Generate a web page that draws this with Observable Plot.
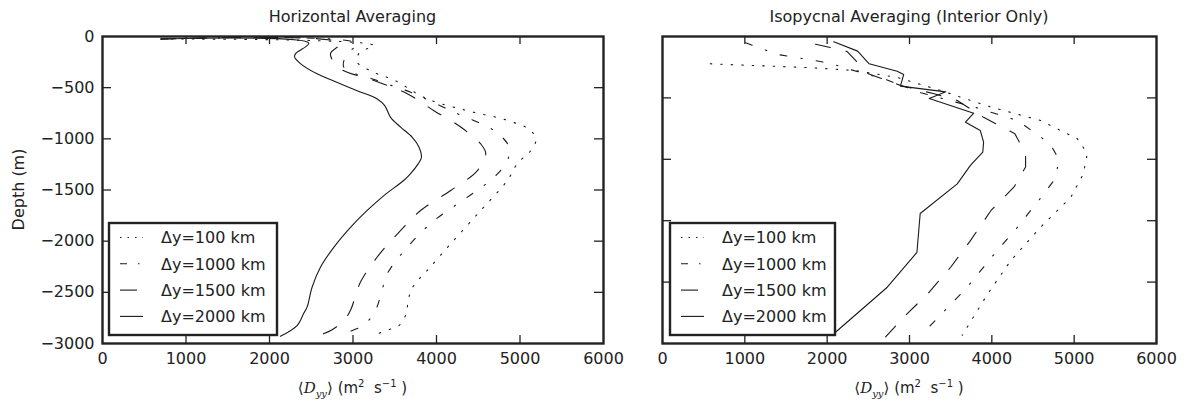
<!DOCTYPE html>
<html><head><meta charset="utf-8">
<script src="https://cdn.jsdelivr.net/npm/d3@7"></script>
<script src="https://cdn.jsdelivr.net/npm/@observablehq/plot@0.6"></script>
<style>
body{margin:0;background:#fff;}
#wrap{display:flex;width:1194px;height:405px;}
#wrap svg{display:block;}
</style></head><body><div id="wrap"></div>
<script>
// ---------- data ----------
const seriesNames = ["Δy=100 km", "Δy=1000 km", "Δy=1500 km", "Δy=2000 km"];
const panelTitles = ["Horizontal Averaging", "Isopycnal Averaging (Interior Only)"];
const yAxisTitle = "Depth (m)";
const xTicks = [0, 1000, 2000, 3000, 4000, 5000, 6000];
const yTicksLeft = [0, -500, -1000, -1500, -2000, -2500, -3000];
const yTicksRight = [0, -600, -1200, -1800, -2400, -3000];

// Horizontal averaging
const hDepth100 = [-25, -88, -155, -250, -350, -430, -610, -725, -820, -920, -1015, -1115, -1240, -1405, -1700, -2025, -2285, -2430, -2545, -2725, -2825, -2865, -2900];
const hD100     = [700, 3250, 3080, 3050, 3250, 3500, 3890, 4370, 4850, 5130, 5190, 5130, 4970, 4850, 4530, 4170, 3890, 3730, 3670, 3630, 3550, 3430, 3310];
const hDepth1000 = [-25, -70, -170, -300, -430, -545, -740, -920, -1080, -1210, -1375, -1570, -1800, -2060, -2320, -2540, -2690, -2820, -2890];
const hD1000     = [700, 3050, 2930, 2890, 3290, 3690, 4210, 4690, 4870, 4850, 4690, 4370, 3970, 3650, 3410, 3330, 3260, 3130, 2930];
const hDepth1500 = [-25, -65, -170, -315, -430, -560, -725, -885, -1050, -1145, -1310, -1505, -1700, -1930, -2155, -2400, -2675, -2775, -2865, -2930];
const hD1500     = [700, 2850, 2730, 2850, 3250, 3650, 3970, 4290, 4530, 4590, 4490, 4170, 3810, 3530, 3290, 3090, 2970, 2890, 2750, 2570];
const hDepth2000 = [-25, -65, -170, -200, -265, -365, -435, -530, -610, -675, -790, -885, -985, -1080, -1180, -1245, -1340, -1405, -1555, -1700, -1865, -2060, -2255, -2450, -2645, -2705, -2825, -2930];
const hD2000     = [700, 2470, 2310, 2300, 2370, 2570, 2770, 3050, 3290, 3380, 3450, 3570, 3710, 3790, 3820, 3780, 3690, 3610, 3370, 3170, 2970, 2770, 2610, 2510, 2450, 2410, 2330, 2130];

// Isopycnal averaging (interior only)
const iDepth100 = [-267, -305, -332, -400, -528, -690, -820, -1000, -1145, -1345, -1570, -1865, -2190, -2515, -2920];
const iD100     = [580, 1800, 2330, 2850, 3380, 3990, 4590, 5040, 5160, 5110, 4960, 4590, 4230, 3950, 3640];
const iDepth1000 = [-61, -117, -176, -205, -234, -264, -316, -371, -420, -550, -690, -820, -1050, -1210, -1400, -1540, -1865, -2125, -2450, -2920];
const iD1000     = [1010, 1200, 1400, 1620, 1840, 2050, 2250, 2490, 2710, 3140, 3790, 4310, 4710, 4820, 4760, 4630, 4310, 4030, 3700, 3140];
const iDepth1500 = [-75, -146, -365, -480, -560, -625, -790, -950, -1145, -1275, -1470, -1700, -1995, -2255, -2515, -2710, -2935];
const iD1500     = [1860, 2240, 2500, 2900, 3300, 3580, 3900, 4280, 4410, 4410, 4270, 3990, 3740, 3500, 3220, 2970, 2710];
const iDepth2000 = [-52, -143, -267, -339, -371, -485, -541, -606, -749, -837, -919, -1032, -1130, -1260, -1440, -1730, -2110, -2450, -2905];
const iD2000     = [2080, 2370, 2510, 2850, 2930, 2890, 3440, 3240, 3780, 3680, 3860, 3900, 3890, 3740, 3580, 3130, 3090, 2730, 2080];

// ---------- styling ----------
const INK = "#222";
const FONT = "'DejaVu Sans', sans-serif";
const dashesPlot = ["1.5,9", "7,14,1.5,14", "15,16", null];
const dashesLegend = ["1.5,6", "7,11,1.5,11", "17,10", null];
const H = 405, MT = 36, MB = 62;

const leftRows = [
  [hDepth100, hD100], [hDepth1000, hD1000], [hDepth1500, hD1500], [hDepth2000, hD2000]
].map(([d, v], i) => d.map((dd, k) => ({series: seriesNames[i], depth: dd, D: v[k]})));
const rightRows = [
  [iDepth100, iD100], [iDepth1000, iD1000], [iDepth1500, iD1500], [iDepth2000, iD2000]
].map(([d, v], i) => d.map((dd, k) => ({series: seriesNames[i], depth: dd, D: v[k]})));

function panel({width, ml, mr, data, yTicks, showYLabels, curve}) {
  const iw = width - ml - mr, ih = H - MT - MB;
  const innerX = xTicks.slice(1, -1), innerY = yTicks.slice(1, -1);
  const marks = [];
  data.forEach((r, i) => {
    marks.push(Plot.line(r, {x: "D", y: "depth", stroke: "#1a1a1a", strokeWidth: 1.1,
      strokeDasharray: dashesPlot[i] || undefined, curve}));
  });
  marks.push(
    Plot.axisX(xTicks, {anchor: "bottom", tickSize: 0, tickPadding: 9, label: null,
      tickFormat: d => String(d), fontSize: 16}),
    Plot.axisY(showYLabels ? yTicks : [], {anchor: "left", tickSize: 0, tickPadding: 8, label: null,
      tickFormat: d => d === 0 ? "0" : "\u2212" + Math.abs(d), fontSize: 16}),
    Plot.tickX(innerX, {x: d => d, insetTop: ih - 8, stroke: INK, strokeWidth: 1.3}),
    Plot.tickX(innerX, {x: d => d, insetBottom: ih - 8, stroke: INK, strokeWidth: 1.3}),
    Plot.tickY(innerY, {y: d => d, insetRight: iw - 9, stroke: INK, strokeWidth: 1.3}),
    Plot.tickY(innerY, {y: d => d, insetLeft: iw - 9, stroke: INK, strokeWidth: 1.3}),
    Plot.frame({stroke: INK, strokeWidth: 2.4})
  );
  return Plot.plot({
    width, height: H, marginLeft: ml, marginRight: mr, marginTop: MT, marginBottom: MB,
    x: {domain: [0, 6000]}, y: {domain: [-3000, 0]},
    style: {fontFamily: FONT, fontSize: "16px", color: INK, background: "white", overflow: "visible"},
    marks
  });
}

function decorate(svgEl, {cx, title, legendX, legendW, sampleX, textX}) {
  const s = d3.select(svgEl);
  s.append("text").attr("x", cx).attr("y", 22).attr("text-anchor", "middle")
    .attr("font-size", 16).attr("fill", INK).attr("font-family", FONT).text(title);
  const t = s.append("text").attr("x", cx).attr("y", 393).attr("text-anchor", "middle")
    .attr("font-size", 15).attr("fill", INK).attr("font-family", FONT)
    .style("white-space", "pre");
  t.append("tspan").attr("font-family", "'DejaVu Serif', serif").text("\u27E8");
  t.append("tspan").attr("font-style", "italic").attr("font-family", "'DejaVu Serif', serif").text("D");
  t.append("tspan").attr("font-style", "italic").attr("font-family", "'DejaVu Serif', serif").attr("font-size", 10).attr("dy", 4).text("yy");
  t.append("tspan").attr("font-family", "'DejaVu Serif', serif").attr("dy", -4).text("\u27E9");
  t.append("tspan").text(" (m");
  t.append("tspan").attr("font-size", 10).attr("dy", -6).text("2");
  t.append("tspan").attr("dy", 6).text("  s");
  t.append("tspan").attr("font-size", 10).attr("dy", -6).text("\u22121");
  t.append("tspan").attr("dy", 6).text(" )");

  const g = s.append("g");
  g.append("rect").attr("x", legendX).attr("y", 223).attr("width", legendW).attr("height", 112)
    .attr("fill", "white").attr("stroke", INK).attr("stroke-width", 2.4);
  seriesNames.forEach((name, i) => {
    const y = 237.5 + i * 26.3;
    g.append("line").attr("x1", sampleX).attr("x2", sampleX + 23).attr("y1", y).attr("y2", y)
      .attr("stroke", "#1a1a1a").attr("stroke-width", 1.1)
      .attr("stroke-dasharray", dashesLegend[i]);
    g.append("text").attr("x", textX).attr("y", y).attr("dy", "0.36em").attr("font-size", 16)
      .attr("text-anchor", "start")
      .attr("fill", INK).attr("font-family", FONT).text(name);
  });
}

const wrap = document.getElementById("wrap");
const left = panel({width: 630, ml: 102, mr: 27, data: leftRows, yTicks: yTicksLeft, showYLabels: true, curve: "catmull-rom"});
const right = panel({width: 564, ml: 32, mr: 38, data: rightRows, yTicks: yTicksRight, showYLabels: false, curve: "linear"});
wrap.appendChild(left);
wrap.appendChild(right);

decorate(left, {cx: 352.5, title: panelTitles[0], legendX: 109, legendW: 168, sampleX: 120, textX: 161});
decorate(right, {cx: 279, title: panelTitles[1], legendX: 40, legendW: 165, sampleX: 51, textX: 92});

d3.select(left).append("text").attr("transform", "translate(18,189.5) rotate(-90)")
  .attr("text-anchor", "middle").attr("dy", "0.35em").attr("font-size", 16).attr("fill", INK)
  .attr("font-family", FONT).text(yAxisTitle);
</script></body></html>
